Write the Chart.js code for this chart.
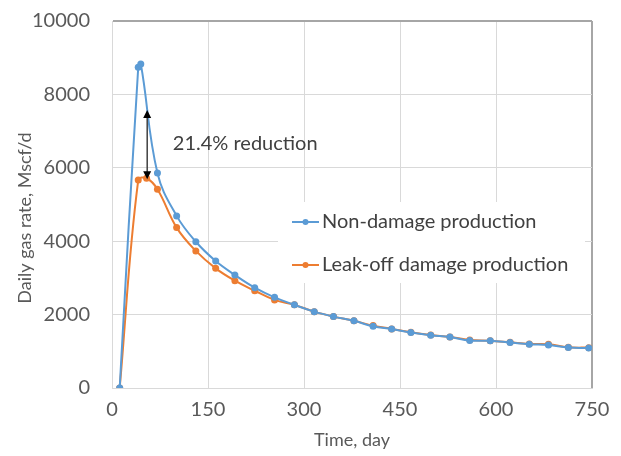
<!DOCTYPE html>
<html>
<head>
<meta charset="utf-8">
<script src="https://cdn.jsdelivr.net/npm/chart.js@4.4.1/dist/chart.umd.min.js"></script>
<style>
  html, body { margin: 0; padding: 0; background: #fff; }
  #wrap { width: 621px; height: 456px; position: relative; }
</style>
</head>
<body>
<div id="wrap"><canvas id="rateChart"></canvas></div>
<script>
// Daily gas rate (Mscf/d) vs time (day)
const nonDamageDays = [12, 41, 45, 71, 101, 131, 162, 192, 223, 254, 285, 316, 346, 378,
    408, 437, 467, 498, 528, 559, 591, 622, 652, 682, 713, 745];
const nonDamageRate = [0, 8740, 8830, 5860, 4690, 3985, 3460, 3080, 2735, 2470, 2265, 2080, 1945, 1830,
    1680, 1605, 1515, 1440, 1390, 1295, 1285, 1240, 1195, 1170, 1105, 1090];

const leakOffDays = [12, 41, 54, 71, 101, 131, 162, 192, 223, 254, 285, 316, 346, 378,
    408, 437, 467, 498, 528, 559, 591, 622, 652, 682, 713, 745];
const leakOffRate = [0, 5665, 5715, 5415, 4370, 3735, 3260, 2925, 2650, 2400, 2265, 2080, 1945, 1830,
    1700, 1610, 1520, 1445, 1390, 1310, 1290, 1245, 1200, 1190, 1110, 1100];

const xTicks = [0, 150, 300, 450, 600, 750];
const yTicks = [0, 2000, 4000, 6000, 8000, 10000];

const seriesNames = ['Non-damage production', 'Leak-off damage production'];
const seriesColors = ['#5b9bd5', '#ed7d31'];

// reduction arrow: day, from, to
const arrowDay = 55;
const arrowTop = 7575;
const arrowBottom = 5690;
const reductionLabel = '21.4% reduction';

const FONT = 'Lato, "DejaVu Sans", sans-serif';

function toPoints(xs, ys) {
    return xs.map((x, i) => ({ x: x, y: ys[i] }));
}

// legend box, axis titles and the reduction note
const decorations = {
    id: 'decorations',
    beforeDatasetsDraw(chart) {
        const ctx = chart.ctx;
        const area = chart.chartArea;
        const bx = area.left + 166, by = area.top + 181;
        ctx.save();
        ctx.fillStyle = '#fff';
        ctx.fillRect(bx, by, 307, 81);
        ctx.font = '20px ' + FONT;
        ctx.textBaseline = 'middle';
        ctx.textAlign = 'left';
        seriesNames.forEach((name, i) => {
            const y = by + 20 + i * 43;
            ctx.strokeStyle = seriesColors[i];
            ctx.lineWidth = 2;
            ctx.beginPath();
            ctx.moveTo(bx + 14, y);
            ctx.lineTo(bx + 41, y);
            ctx.stroke();
            ctx.fillStyle = seriesColors[i];
            ctx.beginPath();
            ctx.arc(bx + 27.5, y, 3, 0, Math.PI * 2);
            ctx.fill();
            ctx.fillStyle = '#404040';
            ctx.fillText(name, bx + 44, y);
        });
        ctx.restore();
    },
    afterDatasetsDraw(chart) {
        const ctx = chart.ctx;
        const xs = chart.scales.x, ys = chart.scales.y;
        const ax = xs.getPixelForValue(arrowDay);
        const y1 = ys.getPixelForValue(arrowTop);
        const y2 = ys.getPixelForValue(arrowBottom);
        ctx.save();
        ctx.strokeStyle = '#404040';
        ctx.lineWidth = 1.5;
        ctx.beginPath();
        ctx.moveTo(ax, y1 + 6);
        ctx.lineTo(ax, y2 - 6);
        ctx.stroke();
        ctx.fillStyle = '#000';
        ctx.beginPath();
        ctx.moveTo(ax, y1);
        ctx.lineTo(ax - 4, y1 + 8);
        ctx.lineTo(ax + 4, y1 + 8);
        ctx.closePath();
        ctx.fill();
        ctx.beginPath();
        ctx.moveTo(ax, y2);
        ctx.lineTo(ax - 4, y2 - 8);
        ctx.lineTo(ax + 4, y2 - 8);
        ctx.closePath();
        ctx.fill();

        ctx.fillStyle = '#404040';
        ctx.font = '20px ' + FONT;
        ctx.textBaseline = 'middle';
        ctx.textAlign = 'left';
        ctx.fillText(reductionLabel, xs.getPixelForValue(95), ys.getPixelForValue(6650));

        // axis titles
        ctx.font = '18px ' + FONT;
        ctx.fillStyle = '#595959';
        ctx.textAlign = 'center';
        ctx.fillText('Time, day', (xs.left + xs.right) / 2, 440);
        ctx.translate(25, 218);
        ctx.rotate(-Math.PI / 2);
        ctx.fillText('Daily gas rate, Mscf/d', 0, 0);
        ctx.restore();
    }
};

const gridColor = '#d9d9d9';
const frameColor = '#a6a6a6';

new Chart(document.getElementById('rateChart'), {
    type: 'line',
    data: {
        datasets: [
            {
                label: seriesNames[0],
                data: toPoints(nonDamageDays, nonDamageRate),
                borderColor: seriesColors[0],
                backgroundColor: seriesColors[0],
                borderWidth: 2,
                pointRadius: 3.5,
                pointBorderWidth: 0,
                tension: 0.4
            },
            {
                label: seriesNames[1],
                data: toPoints(leakOffDays, leakOffRate),
                borderColor: seriesColors[1],
                backgroundColor: seriesColors[1],
                borderWidth: 2,
                pointRadius: 3.5,
                pointBorderWidth: 0,
                tension: 0.4
            }
        ]
    },
    options: {
        responsive: true,
        maintainAspectRatio: false,
        animation: false,
        layout: { padding: { left: 0, top: 21, right: 29, bottom: 0 } },
        plugins: {
            legend: { display: false },
            tooltip: { enabled: false }
        },
        scales: {
            x: {
                type: 'linear',
                min: xTicks[0],
                max: xTicks[xTicks.length - 1],
                afterBuildTicks: scale => { scale.ticks = xTicks.map(v => ({ value: v })); },
                afterFit: scale => { scale.height = 68; },
                ticks: {
                    color: '#595959',
                    font: { family: FONT, size: 20 },
                    padding: 10,
                    maxRotation: 0,
                    callback: v => String(v)
                },
                grid: {
                    drawTicks: false,
                    color: c => c.tick && c.tick.value === 750 ? frameColor : gridColor,
                    lineWidth: c => c.tick && c.tick.value === 750 ? 2 : 1
                },
                border: { display: true, color: gridColor, width: 1 }
            },
            y: {
                min: yTicks[0],
                max: yTicks[yTicks.length - 1],
                afterBuildTicks: scale => { scale.ticks = yTicks.map(v => ({ value: v })); },
                afterFit: scale => {
                    scale.width = 112;
                    // the label gap should not push the plot down
                    scale.paddingTop = 12;
                    scale.paddingBottom = 12;
                },
                ticks: {
                    color: '#595959',
                    font: { family: FONT, size: 20 },
                    padding: 22,
                    callback: v => String(v)
                },
                grid: {
                    drawTicks: false,
                    color: c => c.tick && c.tick.value === 10000 ? frameColor : gridColor,
                    lineWidth: c => c.tick && c.tick.value === 10000 ? 2 : 1
                },
                border: { display: true, color: gridColor, width: 1 }
            }
        }
    },
    plugins: [decorations]
});
</script>
</body>
</html>
